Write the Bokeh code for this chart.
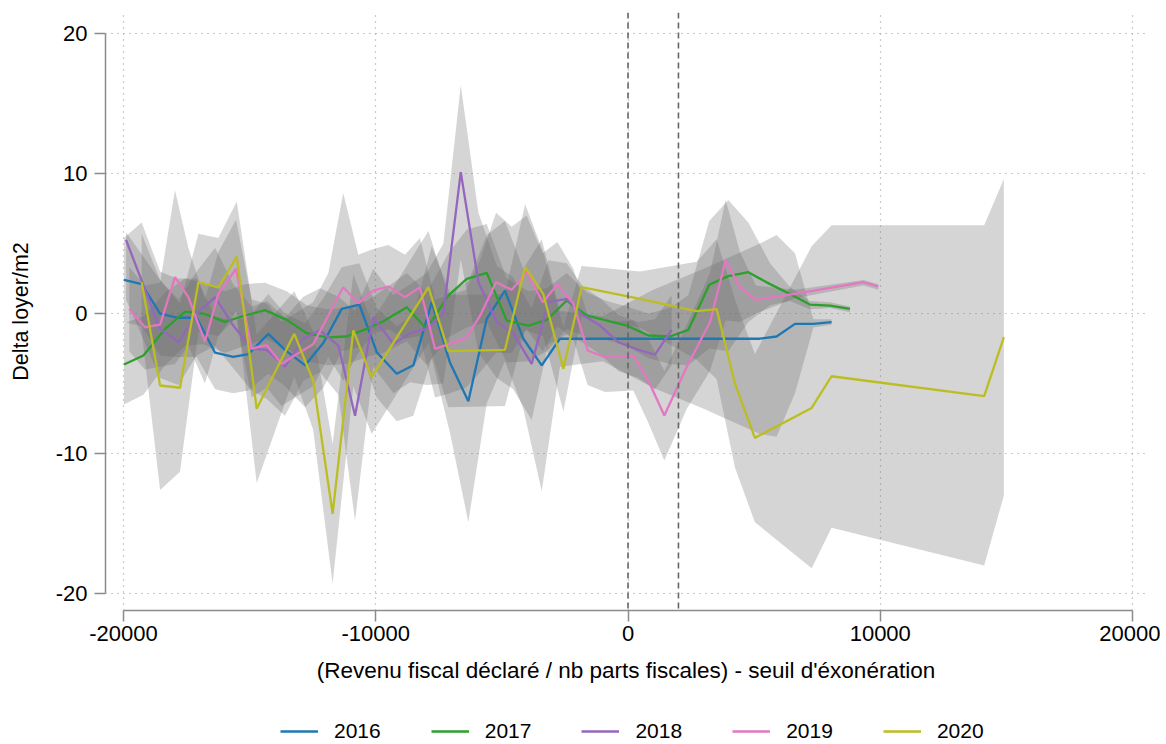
from bokeh.plotting import figure
from bokeh.layouts import column
from bokeh.models import Range1d, Span, Legend, LegendItem, FixedTicker
from bokeh.embed import file_html
from bokeh.resources import INLINE

years = ["2016", "2017", "2018", "2019", "2020"]
colors = ["#1f77b4", "#2ca02c", "#9467bd", "#e377c2", "#bcbd22"]
thresholds = [0, 2000]
x_ticks = [-20000, -10000, 0, 10000, 20000]
y_ticks = [-20, -10, 0, 10, 20]

# 2016
x_2016 = [-19980, -19280, -18550, -17890, -17100, -16370, -15650, -15050, -14260, -13600, -12800,
          -12080, -11350, -10650, -9960, -9170, -8510, -7780, -7060, -6330, -5600, -4880, -4150,
          -3420, -2700, -1000, 1000, 3000, 5230, 5890, 6620, 7350, 8070]
y_2016 = [2.4, 2.1, 0.0, -0.3, -0.3, -2.8, -3.1, -2.9, -1.45, -2.6, -3.7, -2.1, 0.33, 0.64, -2.76,
          -4.3, -3.7, 0.81, -3.5, -6.26, -0.38, 1.64, -1.8, -3.7, -1.8, -1.8, -1.8, -1.8, -1.8,
          -1.64, -0.74, -0.74, -0.62]
lo_2016 = [-0.6, -0.9, -3.0, -3.1, -3.1, -5.4, -5.7, -5.5, -4.3, -5.2, -6.7, -5.3, -2.7, -2.4, -6.0,
           -7.7, -7.3, -3.2, -8.5, -14.9, -6.4, -3.4, -6.8, -12.7, -3.8, -3.4, -5.3, -6.8, -8.6,
           -8.8, -5.7, -1.0, -0.8]
hi_2016 = [5.4, 6.5, 3.0, 2.5, 2.5, -0.2, -0.5, -0.3, 1.4, 0.0, -0.7, 1.1, 3.3, 3.6, 0.4, -0.9,
           -0.1, 4.8, 1.5, 2.3, 5.6, 6.6, 3.2, 5.3, 0.2, -0.2, 1.7, 3.2, 5.0, 5.6, 4.3, -0.4, -0.4]

# 2017
x_2017 = [-19980, -19210, -18350, -17560, -16840, -15980, -15180, -14390, -13530, -12740, -11940,
          -11150, -10360, -9700, -8770, -7980, -7120, -6390, -5600, -4810, -3950, -3220, -2430,
          -1640, -840, -50, 805, 1665, 2390, 3220, 3975, 4770, 5630, 6420, 7210, 8010, 8800]
y_2017 = [-3.64, -3.0, -1.1, 0.14, 0.0, -0.6, -0.14, 0.24, -0.45, -1.4, -1.7, -1.64, -1.1, -0.55,
          0.45, -1.1, 1.29, 2.48, 2.9, -0.5, -0.86, -0.45, 0.93, -0.14, -0.5, -0.86, -1.57, -1.64,
          -1.17, 2.05, 2.67, 2.95, 2.1, 1.4, 0.64, 0.57, 0.33]
lo_2017 = [-6.5, -5.8, -3.7, -2.3, -2.2, -2.8, -2.3, -1.8, -2.5, -3.4, -3.7, -3.6, -3.1, -2.8, -2.0,
           -3.7, -1.7, -1.0, -0.6, -3.5, -3.4, -2.7, -1.1, -1.7, -1.9, -2.3, -3.2, -3.6, -3.7, -2.5,
           -2.7, -0.6, 0.6, 0.9, 0.3, 0.4, 0.1]
hi_2017 = [-0.7, -0.2, 1.5, 2.5, 2.2, 1.6, 2.1, 2.2, 1.6, 0.6, 0.3, 0.4, 0.9, 1.7, 2.9, 1.5, 4.3,
           6.0, 6.4, 2.5, 1.6, 1.8, 2.9, 1.5, 0.9, 0.5, 0.0, 0.4, 1.3, 6.6, 8.1, 6.5, 3.6, 1.9, 0.9,
           0.8, 0.5]

# 2018
x_2018 = [-19900, -18550, -17820, -17100, -16370, -15650, -14920, -14320, -13600, -12870, -12210,
          -11480, -10820, -10100, -9300, -8640, -7980, -7320, -6630, -5930, -5200, -4550, -3820,
          -3160, -2430, -1770, -1110, -380, 410, 1070, 1730]
y_2018 = [5.26, -1.1, -2.05, 0.0, 1.17, -0.86, -2.5, -2.6, -3.8, -1.8, -1.2, -2.3, -7.3, -0.26,
          -2.17, -1.4, -1.1, 0.0, 10.1, 2.24, -0.6, -1.4, -3.6, 0.81, 1.05, -0.14, -0.86, -2.05,
          -2.6, -2.93, -1.17]
lo_2018 = [1.0, -4.6, -5.1, -3.0, -2.3, -3.9, -5.5, -6.1, -7.3, -4.8, -4.2, -5.8, -14.8, -3.8, -5.7,
           -4.9, -5.1, -5.0, 3.9, -2.8, -4.6, -5.4, -7.6, -2.2, -1.5, -2.1, -2.9, -4.1, -4.6, -5.4,
           -3.7]
hi_2018 = [5.8, 2.4, 1.0, 3.0, 4.7, 2.1, 0.5, 0.9, -0.3, 1.2, 1.8, 1.2, 0.2, 3.2, 1.3, 2.1, 2.9, 5.0,
           16.3, 7.2, 3.4, 2.6, 0.4, 3.8, 3.6, 1.9, 1.1, -0.1, -0.6, -0.4, 1.3]

# 2019
x_2019 = [-19770, -19150, -18550, -17960, -17430, -16770, -16240, -15540, -14920, -14320, -13730,
          -13130, -12480, -11880, -11290, -10690, -10100, -9500, -8840, -8250, -7650, -7060, -6420,
          -5870, -5230, -4610, -4020, -3380, -2800, -2170, -1600, -910, 210, 805, 1440, 2330, 3250,
          3870, 4440, 5070, 6620, 9330, 9920]
y_2019 = [0.33, -0.98, -0.8, 2.6, 1.17, -2.0, 1.4, 3.2, -2.5, -2.26, -3.6, -2.9, -2.2, -0.14, 1.88,
          0.74, 1.64, 1.93, 1.17, 1.88, -2.52, -2.17, -1.76, -0.17, 2.24, 1.69, 2.95, 0.81, 2.07,
          0.74, -2.64, -3.12, -3.0, -4.79, -7.29, -3.8, -0.62, 3.79, 1.88, 0.98, 1.4, 2.24, 1.93]
lo_2019 = [-2.7, -4.0, -3.8, -3.6, -2.3, -5.0, -1.6, -0.3, -6.0, -5.3, -6.6, -5.9, -5.2, -3.1, -4.8,
           -2.8, -1.4, -1.1, -1.8, -1.6, -6.0, -5.7, -5.3, -4.2, -2.8, -2.8, -1.1, -2.7, -0.9, -1.8,
           -5.1, -5.6, -5.5, -7.8, -10.5, -6.8, -4.1, -0.5, -0.6, 0.0, 1.1, 2.0, 1.7]
hi_2019 = [3.3, 2.0, 2.2, 8.8, 4.7, 1.0, 4.4, 6.7, 1.0, 0.7, -0.6, 0.1, 0.8, 2.9, 8.6, 4.2, 4.6, 4.9,
           4.2, 5.4, 1.0, 1.3, 1.7, 3.8, 7.2, 6.2, 7.0, 4.3, 5.1, 3.2, -0.1, -0.6, -0.5, -1.8, -4.1,
           -0.8, 2.9, 8.1, 4.4, 2.0, 1.7, 2.4, 2.1]

# 2020
x_2020 = [-19280, -18550, -17760, -17030, -16240, -15510, -14720, -13230, -12480, -11710, -10890,
          -10160, -7910, -7120, -4880, -4080, -3360, -2560, -1840, 475, 2720, 3515, 4240, 5030,
          7280, 8070, 14120, 14900]
y_2020 = [2.24, -5.14, -5.3, 2.24, 1.86, 4.07, -6.8, -1.45, -4.8, -14.3, -1.2, -4.55, 1.88, -2.69,
          -2.6, 3.31, 1.4, -3.95, 1.88, 1.05, 0.17, 0.31, -5.0, -8.88, -6.74, -4.48, -5.9, -1.69]
lo_2020 = [-1.3, -12.6, -11.3, -1.3, -1.6, 0.2, -12.1, -4.5, -8.3, -19.3, -5.2, -8.6, -2.1, -6.7,
           -6.6, -1.2, -1.6, -7.0, -0.2, -1.0, -3.3, -4.7, -11.0, -14.9, -18.2, -15.3, -18.0, -13.0]
hi_2020 = [5.7, 2.4, 0.7, 5.7, 5.4, 8.0, -1.5, 1.6, -1.3, -9.3, 2.8, -0.6, 5.9, 1.3, 1.4, 7.8, 4.4,
           -1.0, 3.4, 3.0, 3.7, 5.3, 1.0, -2.9, 4.8, 6.3, 6.3, 9.6]

series = [
    (x_2016, y_2016, lo_2016, hi_2016),
    (x_2017, y_2017, lo_2017, hi_2017),
    (x_2018, y_2018, lo_2018, hi_2018),
    (x_2019, y_2019, lo_2019, hi_2019),
    (x_2020, y_2020, lo_2020, hi_2020),
]

FONT = "Liberation Sans"
LINE_W = 2.3

p = figure(width=1160, height=700, output_backend="svg", toolbar_location=None,
           x_range=Range1d(-20714, 20555), y_range=Range1d(-21.21, 21.5),
           min_border_left=105, min_border_right=14, min_border_top=12, min_border_bottom=90)
p.outline_line_color = None
p.background_fill_color = "white"

# grid
p.xgrid.ticker = FixedTicker(ticks=x_ticks)
p.ygrid.ticker = FixedTicker(ticks=y_ticks)
for g in (p.xgrid, p.ygrid):
    g.grid_line_color = "#999999"
    g.grid_line_dash = "1 5"
    g.grid_line_width = 1.2

# bands
for xs, ys, lo, hi in series:
    p.varea(x=xs, y1=lo, y2=hi, fill_color="#646464", fill_alpha=0.27)

# threshold lines
for t in thresholds:
    p.add_layout(Span(location=t, dimension="height", line_color="#666666",
                      line_dash="6 4", line_width=1.6))

# lines
for (xs, ys, lo, hi), c in zip(series, colors):
    p.line(xs, ys, line_color=c, line_width=LINE_W)

# axes
p.xaxis.ticker = FixedTicker(ticks=x_ticks)
p.yaxis.ticker = FixedTicker(ticks=y_ticks)
p.xaxis.major_label_overrides = {v: str(v) for v in x_ticks}
p.yaxis.major_label_overrides = {v: str(v) for v in y_ticks}
p.xaxis.bounds = (-20000, 20000)
p.yaxis.bounds = (-20, 20)
p.xaxis.axis_label = "(Revenu fiscal déclaré / nb parts fiscales) - seuil d'éxonération"
p.yaxis.axis_label = "Delta loyer/m2"
for ax in (p.xaxis, p.yaxis):
    ax.axis_line_color = "#8c8c8c"
    ax.axis_line_width = 1.5
    ax.major_tick_line_color = "#8c8c8c"
    ax.major_tick_line_width = 1.5
    ax.major_tick_out = 11
    ax.major_tick_in = 0
    ax.minor_tick_out = 0
    ax.minor_tick_in = 0
    ax.major_label_text_font = FONT
    ax.major_label_text_font_size = "22px"
    ax.major_label_text_color = "black"
    ax.axis_label_text_font = FONT
    ax.axis_label_text_font_style = "normal"
    ax.axis_label_text_color = "black"
p.xaxis.axis_label_text_font_size = "22.5px"
p.yaxis.axis_label_text_font_size = "21.5px"
p.xaxis.major_label_standoff = 4
p.xaxis.axis_label_standoff = 14
p.yaxis.major_label_standoff = 7
p.yaxis.axis_label_standoff = 20

# legend figure: the series lines again, in a view far from their data, so only the keys show
pl = figure(width=1160, height=44, output_backend="svg", toolbar_location=None,
            x_range=Range1d(1e6, 1e6 + 1), y_range=Range1d(1e6, 1e6 + 1),
            x_axis_type=None, y_axis_type=None,
            min_border_left=0, min_border_right=0, min_border_top=0, min_border_bottom=0)
pl.outline_line_color = None
pl.grid.visible = False
keys = [pl.line(xs, ys, line_color=c, line_width=LINE_W)
        for (xs, ys, lo, hi), c in zip(series, colors)]
legend = Legend(items=[LegendItem(label=yr, renderers=[r]) for yr, r in zip(years, keys)],
                orientation="horizontal", location=(175, 1),
                glyph_width=38, glyph_height=20, label_height=20, label_width=46,
                label_standoff=16, spacing=50, padding=0, margin=0,
                border_line_color=None, background_fill_alpha=0,
                label_text_font=FONT, label_text_font_size="21px",
                label_text_color="black")
pl.add_layout(legend, "center")

open("out.html", "w").write(file_html(column(p, pl, spacing=0), INLINE))
